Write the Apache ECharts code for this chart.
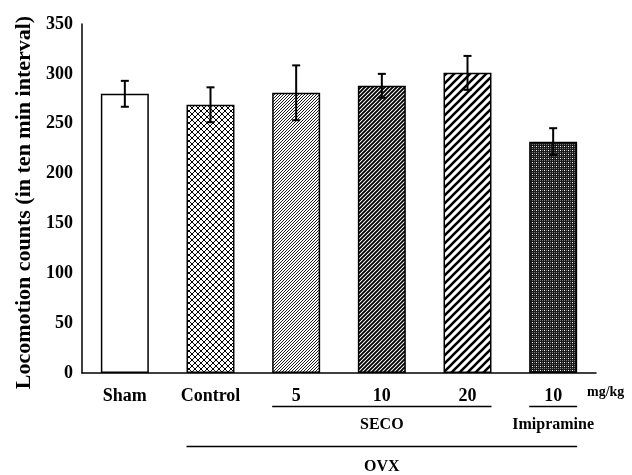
<!DOCTYPE html>
<html>
<head>
<meta charset="utf-8">
<script src="https://cdn.jsdelivr.net/npm/echarts@6/dist/echarts.min.js"></script>
<style>html,body{margin:0;padding:0;background:#fff}#c{width:632px;height:475px}</style>
</head>
<body>
<div id="c"></div>
<script>
// ---- data ----
const categories = ['Sham', 'Control', '5', '10', '20', '10'];
const means = [280, 269, 281, 288, 301, 232];
const errors = [13, 17.5, 27.5, 12, 17, 13.5];
const yTicks = [0, 50, 100, 150, 200, 250, 300, 350];
const groupNames = ['SECO', 'Imipramine', 'OVX'];
const groupStart = [2, 5, 1];
const groupEnd = [4, 5, 5];
const groupLevel = [1, 1, 2];
const unitLabel = 'mg/kg';
const yTitle = 'Locomotion counts (in ten min interval)';

// ---- patterns ----
function tile(size, bg, draw) {
  const c = document.createElement('canvas');
  c.width = c.height = size;
  const ctx = c.getContext('2d');
  ctx.fillStyle = bg; ctx.fillRect(0, 0, size, size);
  draw(ctx, size);
  return { image: c, repeat: 'repeat' };
}
function slash(ctx, s, w) {
  ctx.strokeStyle = '#000'; ctx.lineWidth = w;
  ctx.beginPath();
  ctx.moveTo(-1, s + 1); ctx.lineTo(s + 1, -1);
  ctx.moveTo(-1, 1); ctx.lineTo(1, -1);
  ctx.moveTo(s - 1, s + 1); ctx.lineTo(s + 1, s - 1);
  ctx.stroke();
}
const fills = [
  '#ffffff',
  tile(6, '#fff', (ctx, s) => {
    ctx.strokeStyle = '#000'; ctx.lineWidth = 1;
    ctx.beginPath();
    ctx.moveTo(0, 0); ctx.lineTo(s, s);
    ctx.moveTo(0, s); ctx.lineTo(s, 0);
    ctx.stroke();
  }),
  tile(3, '#fff', (ctx, s) => slash(ctx, s, 0.9)),
  tile(4, '#fff', (ctx, s) => slash(ctx, s, 1.9)),
  tile(8, '#fff', (ctx, s) => slash(ctx, s, 2.6)),
  tile(4, '#1a1a1a', (ctx) => {
    ctx.fillStyle = '#7a7a7a';
    ctx.fillRect(0, 0, 1, 1); ctx.fillRect(2, 2, 1, 1);
    ctx.fillRect(2, 0, 1, 1);
    ctx.fillStyle = '#ffffff';
    ctx.fillRect(0, 2, 1, 1);
  })
];

const FONT = "'Liberation Serif', 'Times New Roman', serif";
const chart = echarts.init(document.getElementById('c'), null, { renderer: 'canvas' });

const option = {
  animation: false,
  backgroundColor: '#fff',
  grid: { left: 82, right: 36, top: 24, bottom: 102, containLabel: false },
  xAxis: {
    type: 'category',
    data: categories,
    axisLine: { lineStyle: { color: '#000', width: 1.5 } },
    axisTick: { show: false },
    axisLabel: { color: '#000', fontFamily: FONT, fontWeight: 'bold', fontSize: 18, margin: 14 },
    name: unitLabel,
    nameLocation: 'end',
    nameGap: -9,
    nameTextStyle: { color: '#000', fontFamily: FONT, fontWeight: 'bold', fontSize: 14, verticalAlign: 'top', padding: [12, 0, 0, 0] }
  },
  yAxis: {
    type: 'value',
    min: yTicks[0],
    max: yTicks[yTicks.length - 1],
    interval: yTicks[1] - yTicks[0],
    splitLine: { show: false },
    axisLine: { show: true, lineStyle: { color: '#000', width: 1.5 } },
    axisTick: { show: false },
    axisLabel: { color: '#000', fontFamily: FONT, fontWeight: 'bold', fontSize: 18, margin: 9 },
    name: yTitle,
    nameLocation: 'middle',
    nameGap: 47,
    nameTextStyle: { color: '#000', fontFamily: FONT, fontWeight: 'bold', fontSize: 22, padding: [0, 0, 0, -8] }
  },
  series: [
    {
      type: 'bar',
      barWidth: '56%',
      data: means.map((v, i) => ({
        value: v,
        itemStyle: { color: fills[i], borderColor: '#000', borderWidth: 1.5 }
      })),
      z: 2
    },
    {
      type: 'custom',
      z: 5,
      data: means.map((v, i) => [i, v, errors[i]]),
      renderItem: function (params, api) {
        const x = api.value(0), m = api.value(1), e = api.value(2);
        const hi = api.coord([x, m + e]);
        const lo = api.coord([x, m - e]);
        const cap = 4;
        const st = { stroke: '#000', lineWidth: 2 };
        return {
          type: 'group',
          children: [
            { type: 'line', shape: { x1: hi[0], y1: hi[1], x2: lo[0], y2: lo[1] }, style: st },
            { type: 'line', shape: { x1: hi[0] - cap, y1: hi[1], x2: hi[0] + cap, y2: hi[1] }, style: st },
            { type: 'line', shape: { x1: lo[0] - cap, y1: lo[1], x2: lo[0] + cap, y2: lo[1] }, style: st }
          ]
        };
      }
    },
    {
      type: 'custom',
      clip: false,
      silent: true,
      data: groupNames.map((n, i) => [groupStart[i], groupEnd[i], groupLevel[i], i]),
      renderItem: function (params, api) {
        const s = api.value(0), e = api.value(1), lvl = api.value(2), idx = api.value(3);
        const a = api.coord([s, 0]);
        const b = api.coord([e, 0]);
        const bw = api.size([1, 0])[0];
        const half = bw * 0.28;
        const x1 = a[0] - half, x2 = b[0] + half;
        const lineY = a[1] + (lvl === 1 ? 33.5 : 73.5);
        const textY = a[1] + (lvl === 1 ? 52 : 93.5);
        return {
          type: 'group',
          children: [
            { type: 'line', shape: { x1: x1, y1: lineY, x2: x2, y2: lineY }, style: { stroke: '#000', lineWidth: 1.5 } },
            { type: 'text', style: { x: (x1 + x2) / 2, y: textY, text: groupNames[idx], fill: '#000',
                font: 'bold 16px ' + FONT, textAlign: 'center', textVerticalAlign: 'middle' } }
          ]
        };
      }
    }
  ]
};
chart.setOption(option);
</script>
</body>
</html>
